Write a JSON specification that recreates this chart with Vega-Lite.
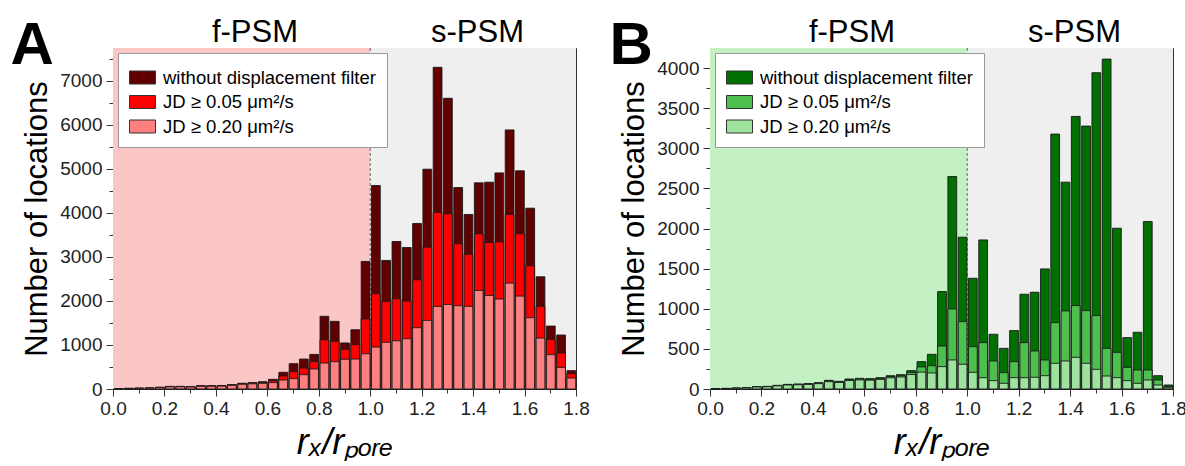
{
  "$schema": "https://vega.github.io/schema/vega-lite/v6.json",
  "padding": {"left": 9, "top": 14, "right": 0, "bottom": 0},
  "bounds": "flush",
  "spacing": 134,
  "resolve": {"scale": {"color": "independent", "x": "independent", "y": "independent"}, "legend": {"color": "independent"}},
  "config": {
    "font": "Liberation Sans",
    "view": {"stroke": "#333", "strokeWidth": 1},
    "axis": {"grid": false, "domainColor": "#333", "tickColor": "#333", "labelColor": "#222", "titleColor": "#000", "titleFontWeight": "normal", "labelFont": "Liberation Sans", "titleFont": "Liberation Sans"}
  },
  "hconcat": [
    {
      "width": 463,
      "height": 341,
      "resolve": {"axis": {"x": "independent"}},
      "layer": [
        {"data": {"values": [{}]}, "mark": {"type": "rect", "color": "#fbc6c6"}, "encoding": {"x": {"datum": 0, "type": "quantitative", "axis": null}, "x2": {"datum": 1}}},
        {"data": {"values": [{}]}, "mark": {"type": "rect", "color": "#efefef"}, "encoding": {"x": {"datum": 1, "type": "quantitative", "axis": null}, "x2": {"datum": 1.8}}},
        {"data": {"values": [{"boundary": 1}]}, "mark": {"type": "rule", "color": "#666", "strokeDash": [3, 2], "strokeWidth": 1},
         "encoding": {"x": {"field": "boundary", "type": "quantitative", "axis": {"orient": "top", "values": [0.55, 1.415], "labelExpr": "datum.value < 1 ? 'f-PSM' : 's-PSM'", "ticks": false, "tickSize": 0, "domain": false, "labelFontSize": 31, "labelColor": "#000", "labelBaseline": "alphabetic", "labelPadding": 7, "labelOverlap": false, "labelFlush": false, "title": "A", "titleX": -103, "titleY": 15, "titleFontSize": 60, "titleFontWeight": "bold", "titleAlign": "left", "titleBaseline": "alphabetic", "titleAngle": 0}}}},
        {
          "data": {"values": [
            {"r": 0.00, "all": 10, "j05": 9, "j20": 8},
            {"r": 0.04, "all": 15, "j05": 14, "j20": 12},
            {"r": 0.08, "all": 20, "j05": 18, "j20": 16},
            {"r": 0.12, "all": 25, "j05": 23, "j20": 21},
            {"r": 0.16, "all": 40, "j05": 37, "j20": 33},
            {"r": 0.20, "all": 60, "j05": 56, "j20": 50},
            {"r": 0.24, "all": 60, "j05": 56, "j20": 50},
            {"r": 0.28, "all": 55, "j05": 51, "j20": 46},
            {"r": 0.32, "all": 75, "j05": 70, "j20": 63},
            {"r": 0.36, "all": 75, "j05": 70, "j20": 63},
            {"r": 0.40, "all": 80, "j05": 74, "j20": 67},
            {"r": 0.44, "all": 100, "j05": 93, "j20": 84},
            {"r": 0.48, "all": 130, "j05": 121, "j20": 108},
            {"r": 0.52, "all": 145, "j05": 134, "j20": 118},
            {"r": 0.56, "all": 165, "j05": 150, "j20": 130},
            {"r": 0.60, "all": 220, "j05": 190, "j20": 145},
            {"r": 0.64, "all": 380, "j05": 295, "j20": 205},
            {"r": 0.68, "all": 575, "j05": 395, "j20": 235},
            {"r": 0.72, "all": 680, "j05": 475, "j20": 325},
            {"r": 0.76, "all": 785, "j05": 620, "j20": 455},
            {"r": 0.80, "all": 1650, "j05": 1115, "j20": 590},
            {"r": 0.84, "all": 1535, "j05": 1085, "j20": 620},
            {"r": 0.88, "all": 1045, "j05": 900, "j20": 675},
            {"r": 0.92, "all": 1345, "j05": 1010, "j20": 680},
            {"r": 0.96, "all": 2895, "j05": 1590, "j20": 800},
            {"r": 1.00, "all": 4618, "j05": 2162, "j20": 952},
            {"r": 1.04, "all": 2918, "j05": 1985, "j20": 1060},
            {"r": 1.08, "all": 3348, "j05": 2048, "j20": 1095},
            {"r": 1.12, "all": 3212, "j05": 1995, "j20": 1141},
            {"r": 1.16, "all": 3757, "j05": 2479, "j20": 1391},
            {"r": 1.20, "all": 4989, "j05": 3220, "j20": 1557},
            {"r": 1.24, "all": 7302, "j05": 4006, "j20": 1875},
            {"r": 1.28, "all": 6599, "j05": 3976, "j20": 1920},
            {"r": 1.32, "all": 4573, "j05": 3296, "j20": 1890},
            {"r": 1.36, "all": 3961, "j05": 3061, "j20": 1875},
            {"r": 1.40, "all": 4679, "j05": 3522, "j20": 2237},
            {"r": 1.44, "all": 4694, "j05": 3326, "j20": 2124},
            {"r": 1.48, "all": 4905, "j05": 3341, "j20": 2041},
            {"r": 1.52, "all": 5881, "j05": 3961, "j20": 2404},
            {"r": 1.56, "all": 4951, "j05": 3522, "j20": 2109},
            {"r": 1.60, "all": 4104, "j05": 2797, "j20": 1618},
            {"r": 1.64, "all": 2547, "j05": 1875, "j20": 1156},
            {"r": 1.68, "all": 1429, "j05": 1126, "j20": 779},
            {"r": 1.72, "all": 1225, "j05": 816, "j20": 491},
            {"r": 1.76, "all": 416, "j05": 348, "j20": 249}
          ]},
          "transform": [{"fold": ["all", "j05", "j20"], "as": ["series", "n"]}],
          "mark": {"type": "bar", "stroke": "#1a1a1a", "strokeWidth": 0.9, "binSpacing": 1.5},
          "encoding": {
            "x": {"field": "r", "type": "quantitative", "bin": {"binned": true, "step": 0.04}, "scale": {"domain": [0, 1.8], "nice": false, "zero": false},
                  "axis": {"orient": "bottom", "values": [0, 0.1, 0.2, 0.3, 0.4, 0.5, 0.6, 0.7, 0.8, 0.9, 1.0, 1.1, 1.2, 1.3, 1.4, 1.5, 1.6, 1.7, 1.8], "labelExpr": "round(datum.value*10) % 2 === 0 ? format(datum.value, '.1f') : ''", "tickSize": {"condition": {"test": "round(datum.value*10) % 2 === 0", "value": 7}, "value": 4}, "labelFontSize": 19, "labelPadding": 3, "labelOverlap": false, "labelFlush": false, "titleFontSize": 36, "titleFontStyle": "italic", "titlePadding": 7},
                  "title": "rₓ/rₚₒᵣₑ"},
            "y": {"field": "n", "type": "quantitative", "stack": null, "scale": {"domain": [0, 7740], "nice": false},
                  "axis": {"values": [0, 500, 1000, 1500, 2000, 2500, 3000, 3500, 4000, 4500, 5000, 5500, 6000, 6500, 7000, 7500], "format": "d", "labelExpr": "datum.value % 1000 === 0 ? datum.label : ''", "tickSize": {"condition": {"test": "datum.value % 1000 === 0", "value": 7}, "value": 4}, "labelFontSize": 19, "labelPadding": 4, "labelOverlap": false, "titleFontSize": 31, "titlePadding": 6},
                  "title": "Number of locations"},
            "color": {"field": "series", "type": "nominal", "scale": {"domain": ["all", "j05", "j20"], "range": ["#600000", "#ff0000", "#ff8080"]},
                      "legend": {"orient": "top-left", "offset": 5, "title": null, "fillColor": "#fff", "strokeColor": "#999", "padding": 11, "labelFontSize": 18.5, "labelColor": "#000", "symbolType": "M-1,-0.5H1V0.5H-1Z", "symbolSize": 676, "symbolStrokeColor": "#333", "symbolStrokeWidth": 1, "rowPadding": 1.5, "labelOffset": 7, "labelLimit": 400,
                                 "labelExpr": "datum.label === 'all' ? 'without displacement filter' : datum.label === 'j05' ? 'JD ≥ 0.05 μm²/s' : 'JD ≥ 0.20 μm²/s'"}}
          }
        }
      ]
    },
    {
      "width": 463,
      "height": 341,
      "resolve": {"axis": {"x": "independent"}},
      "layer": [
        {"data": {"values": [{}]}, "mark": {"type": "rect", "color": "#c4f1c4"}, "encoding": {"x": {"datum": 0, "type": "quantitative", "axis": null}, "x2": {"datum": 1}}},
        {"data": {"values": [{}]}, "mark": {"type": "rect", "color": "#efefef"}, "encoding": {"x": {"datum": 1, "type": "quantitative", "axis": null}, "x2": {"datum": 1.8}}},
        {"data": {"values": [{"boundary": 1}]}, "mark": {"type": "rule", "color": "#666", "strokeDash": [3, 2], "strokeWidth": 1},
         "encoding": {"x": {"field": "boundary", "type": "quantitative", "axis": {"orient": "top", "values": [0.55, 1.415], "labelExpr": "datum.value < 1 ? 'f-PSM' : 's-PSM'", "ticks": false, "tickSize": 0, "domain": false, "labelFontSize": 31, "labelColor": "#000", "labelBaseline": "alphabetic", "labelPadding": 7, "labelOverlap": false, "labelFlush": false, "title": "B", "titleX": -101, "titleY": 15, "titleFontSize": 60, "titleFontWeight": "bold", "titleAlign": "left", "titleBaseline": "alphabetic", "titleAngle": 0}}}},
        {
          "data": {"values": [
            {"r": 0.00, "all": 4, "j05": 4, "j20": 3},
            {"r": 0.04, "all": 8, "j05": 7, "j20": 6},
            {"r": 0.08, "all": 12, "j05": 11, "j20": 10},
            {"r": 0.12, "all": 17, "j05": 16, "j20": 14},
            {"r": 0.16, "all": 29, "j05": 27, "j20": 25},
            {"r": 0.20, "all": 33, "j05": 31, "j20": 28},
            {"r": 0.24, "all": 46, "j05": 43, "j20": 39},
            {"r": 0.28, "all": 58, "j05": 55, "j20": 50},
            {"r": 0.32, "all": 62, "j05": 58, "j20": 53},
            {"r": 0.36, "all": 67, "j05": 63, "j20": 57},
            {"r": 0.40, "all": 79, "j05": 74, "j20": 67},
            {"r": 0.44, "all": 108, "j05": 101, "j20": 92},
            {"r": 0.48, "all": 96, "j05": 90, "j20": 82},
            {"r": 0.52, "all": 125, "j05": 117, "j20": 106},
            {"r": 0.56, "all": 133, "j05": 125, "j20": 113},
            {"r": 0.60, "all": 129, "j05": 121, "j20": 110},
            {"r": 0.64, "all": 141, "j05": 132, "j20": 120},
            {"r": 0.68, "all": 166, "j05": 155, "j20": 140},
            {"r": 0.72, "all": 179, "j05": 165, "j20": 150},
            {"r": 0.76, "all": 229, "j05": 205, "j20": 180},
            {"r": 0.80, "all": 341, "j05": 275, "j20": 210},
            {"r": 0.84, "all": 432, "j05": 290, "j20": 200},
            {"r": 0.88, "all": 1214, "j05": 536, "j20": 279},
            {"r": 0.92, "all": 2648, "j05": 998, "j20": 362},
            {"r": 0.96, "all": 1892, "j05": 840, "j20": 308},
            {"r": 1.00, "all": 1380, "j05": 528, "j20": 208},
            {"r": 1.04, "all": 1858, "j05": 578, "j20": 141},
            {"r": 1.08, "all": 682, "j05": 349, "j20": 104},
            {"r": 1.12, "all": 507, "j05": 204, "j20": 71},
            {"r": 1.16, "all": 728, "j05": 341, "j20": 141},
            {"r": 1.20, "all": 1181, "j05": 578, "j20": 141},
            {"r": 1.24, "all": 1206, "j05": 474, "j20": 146},
            {"r": 1.28, "all": 1497, "j05": 362, "j20": 166},
            {"r": 1.32, "all": 3177, "j05": 827, "j20": 320},
            {"r": 1.36, "all": 2578, "j05": 973, "j20": 349},
            {"r": 1.40, "all": 3397, "j05": 1040, "j20": 395},
            {"r": 1.44, "all": 3277, "j05": 977, "j20": 320},
            {"r": 1.48, "all": 3942, "j05": 915, "j20": 245},
            {"r": 1.52, "all": 4112, "j05": 507, "j20": 162},
            {"r": 1.56, "all": 2004, "j05": 457, "j20": 141},
            {"r": 1.60, "all": 640, "j05": 270, "j20": 104},
            {"r": 1.64, "all": 707, "j05": 237, "j20": 71},
            {"r": 1.68, "all": 2087, "j05": 237, "j20": 112},
            {"r": 1.72, "all": 166, "j05": 112, "j20": 50},
            {"r": 1.76, "all": 50, "j05": 30, "j20": 15}
          ]},
          "transform": [{"fold": ["all", "j05", "j20"], "as": ["series", "n"]}],
          "mark": {"type": "bar", "stroke": "#1a1a1a", "strokeWidth": 0.9, "binSpacing": 1.5},
          "encoding": {
            "x": {"field": "r", "type": "quantitative", "bin": {"binned": true, "step": 0.04}, "scale": {"domain": [0, 1.8], "nice": false, "zero": false},
                  "axis": {"orient": "bottom", "values": [0, 0.1, 0.2, 0.3, 0.4, 0.5, 0.6, 0.7, 0.8, 0.9, 1.0, 1.1, 1.2, 1.3, 1.4, 1.5, 1.6, 1.7, 1.8], "labelExpr": "round(datum.value*10) % 2 === 0 ? format(datum.value, '.1f') : ''", "tickSize": {"condition": {"test": "round(datum.value*10) % 2 === 0", "value": 7}, "value": 4}, "labelFontSize": 19, "labelPadding": 3, "labelOverlap": false, "labelFlush": false, "titleFontSize": 36, "titleFontStyle": "italic", "titlePadding": 7},
                  "title": "rₓ/rₚₒᵣₑ"},
            "y": {"field": "n", "type": "quantitative", "stack": null, "scale": {"domain": [0, 4250], "nice": false},
                  "axis": {"values": [0, 250, 500, 750, 1000, 1250, 1500, 1750, 2000, 2250, 2500, 2750, 3000, 3250, 3500, 3750, 4000], "format": "d", "labelExpr": "datum.value % 500 === 0 ? datum.label : ''", "tickSize": {"condition": {"test": "datum.value % 500 === 0", "value": 7}, "value": 4}, "labelFontSize": 19, "labelPadding": 4, "labelOverlap": false, "titleFontSize": 31, "titlePadding": 6},
                  "title": "Number of locations"},
            "color": {"field": "series", "type": "nominal", "scale": {"domain": ["all", "j05", "j20"], "range": ["#007000", "#4cbf4c", "#9de29d"]},
                      "legend": {"orient": "top-left", "offset": 5, "title": null, "fillColor": "#fff", "strokeColor": "#999", "padding": 11, "labelFontSize": 18.5, "labelColor": "#000", "symbolType": "M-1,-0.5H1V0.5H-1Z", "symbolSize": 676, "symbolStrokeColor": "#333", "symbolStrokeWidth": 1, "rowPadding": 1.5, "labelOffset": 7, "labelLimit": 400,
                                 "labelExpr": "datum.label === 'all' ? 'without displacement filter' : datum.label === 'j05' ? 'JD ≥ 0.05 μm²/s' : 'JD ≥ 0.20 μm²/s'"}}
          }
        }
      ]
    }
  ]
}
